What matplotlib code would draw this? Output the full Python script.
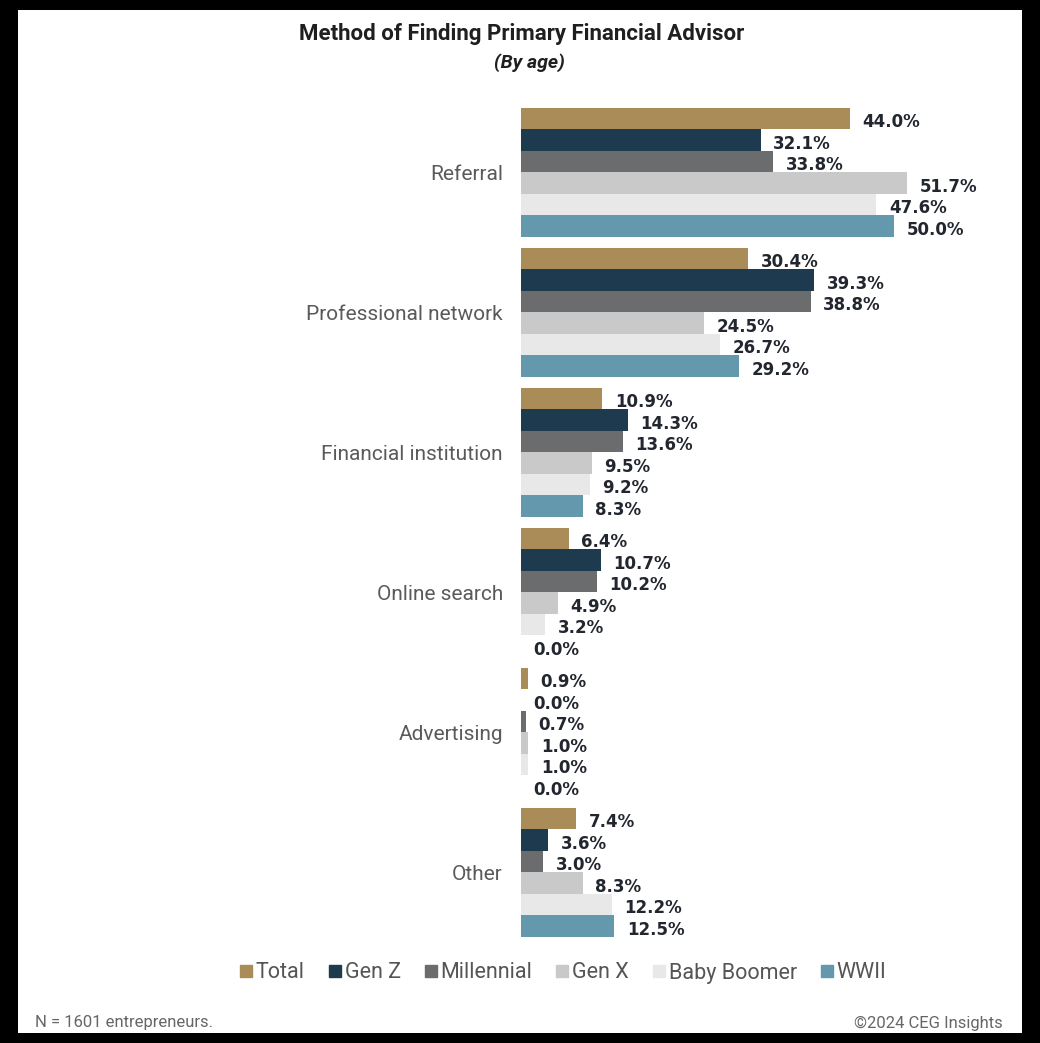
import numpy as np
import matplotlib
matplotlib.use('Agg')
from matplotlib import pyplot as plt
from matplotlib.patches import Rectangle
from matplotlib.lines import Line2D

# Data
categories = ['Referral', 'Professional network', 'Financial institution',
              'Online search', 'Advertising', 'Other']
groups = ['Total', 'Gen Z', 'Millennial', 'Gen X', 'Baby Boomer', 'WWII']
total = [44.0, 30.4, 10.9, 6.4, 0.9, 7.4]
gen_z = [32.1, 39.3, 14.3, 10.7, 0.0, 3.6]
millennial = [33.8, 38.8, 13.6, 10.2, 0.7, 3.0]
gen_x = [51.7, 24.5, 9.5, 4.9, 1.0, 8.3]
baby_boomer = [47.6, 26.7, 9.2, 3.2, 1.0, 12.2]
wwii = [50.0, 29.2, 8.3, 0.0, 0.0, 12.5]

series = [total, gen_z, millennial, gen_x, baby_boomer, wwii]
colors = ['#a98c57', '#1e3a4e', '#6b6c6e', '#c9c9c9', '#e8e8e8', '#6498ad']

fig = plt.figure(figsize=(10.4, 10.43), dpi=100)
fig.patch.set_facecolor('black')
# white card inside the black frame
fig.patches.append(Rectangle((18 / 1040, 1 - 1033 / 1043), (1022 - 18) / 1040, (1033 - 10) / 1043,
                             transform=fig.transFigure, facecolor='white', edgecolor='none', zorder=-10))

ax = fig.add_axes([521 / 1040, 1 - 942 / 1043, 448 / 1040, 840 / 1043])
ax.set_facecolor('none')

h = 21.5 / 140
y = np.arange(len(categories))
for j, (vals, c) in enumerate(zip(series, colors)):
    pos = y + (j - 2.5) * h
    ax.barh(pos, vals, height=h, color=c, edgecolor='none', label=groups[j])
    for p, v in zip(pos, vals):
        ax.annotate(f'{v:.1f}%', (v, p), xytext=(9, -3), textcoords='offset points',
                    ha='left', va='center', fontsize=12, fontweight='bold',
                    color='#22262e', family='DejaVu Sans')

ax.set_xlim(0, 60)
ax.set_ylim(5.5, -0.5)
ax.set_xticks([])
ax.set_yticks(y)
ax.set_yticklabels(categories, fontsize=15, color='#5a5a5a', family='Roboto')
ax.tick_params(axis='y', length=0, pad=13)
for s in ax.spines.values():
    s.set_visible(False)

fig.text(522 / 1040, 1 - 34 / 1043, 'Method of Finding Primary Financial Advisor',
         ha='center', va='center', fontsize=16, fontweight='bold', color='#1f1f1f', family='Roboto')
fig.text(529 / 1040, 1 - 63 / 1043, '(By age)', ha='center', va='center', fontsize=14,
         fontweight='bold', style='italic', color='#1f1f1f', family='Roboto')

handles = [Line2D([], [], marker='s', linestyle='none', markersize=9, color=c) for c in colors]
fig.legend(handles, groups, loc='center', bbox_to_anchor=(563 / 1040, 1 - 973 / 1043), ncol=6,
           frameon=False, handlelength=0.6, handletextpad=0.15, columnspacing=1.1,
           prop={'family': 'Roboto', 'size': 15.5}, labelcolor='#555555')

fig.text(35 / 1040, 1 - 1023 / 1043, 'N = 1601 entrepreneurs.', ha='left', va='center',
         fontsize=12, color='#666666', family='Roboto')
fig.text(1003 / 1040, 1 - 1023 / 1043, '©2024 CEG Insights', ha='right', va='center',
         fontsize=12, color='#666666', family='Roboto')

plt.savefig('out.png', dpi=100, facecolor=fig.get_facecolor())
